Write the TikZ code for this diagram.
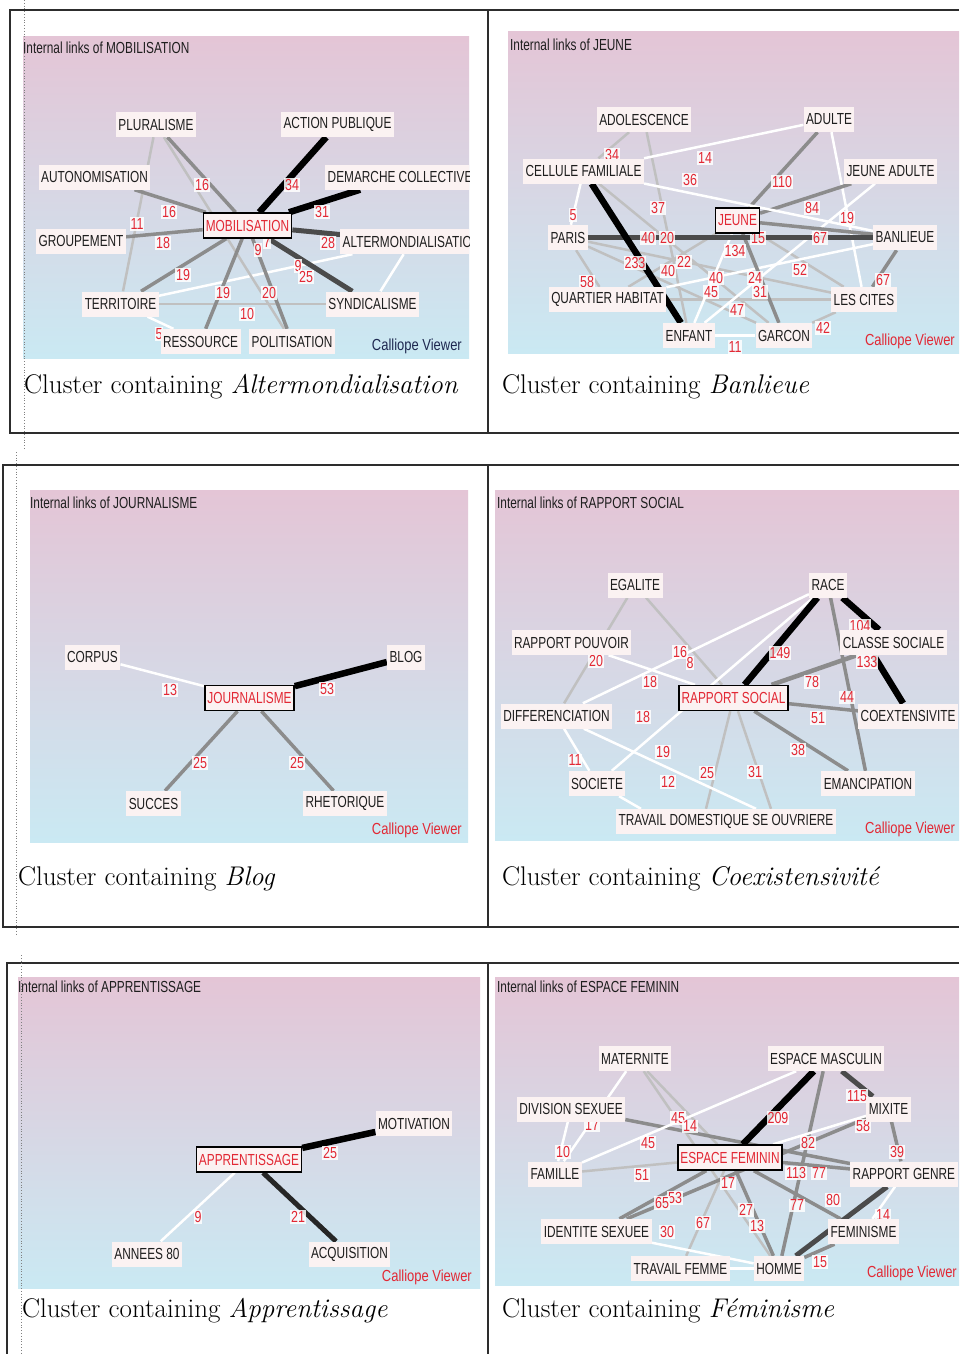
\documentclass[tikz,border=0pt]{standalone}
\usepackage{fontspec}
\newfontfamily\sansnarrow[FakeStretch=0.74]{Liberation Sans}
\newfontfamily\sansnum[FakeStretch=0.78]{Liberation Sans}
\newfontfamily\sanscv[FakeStretch=0.81]{Liberation Sans}
\newcommand\lblfont{\sansnarrow\fontsize{16}{18}\selectfont}
\newcommand\numfont{\sansnum\fontsize{16}{18}\selectfont}
\newcommand\cvfont{\sanscv\fontsize{16}{18}\selectfont}
\newcommand\capfont{\fontsize{27}{32}\selectfont}

\definecolor{pnkTop}{RGB}{228,197,214}
\definecolor{bluBot}{RGB}{202,233,243}
\definecolor{boxfill}{RGB}{251,242,242}
\definecolor{inkdark}{RGB}{30,30,30}
\definecolor{labred}{RGB}{226,40,52}
\definecolor{navy}{RGB}{30,40,80}
\definecolor{edgedark}{RGB}{75,75,75}
\definecolor{edgegray}{RGB}{140,140,140}
\definecolor{edgelight}{RGB}{192,192,192}
\definecolor{framecol}{RGB}{45,45,45}

\pgfdeclarelayer{bg}
\pgfdeclarelayer{edges}
\pgfdeclarelayer{nums}
\pgfsetlayers{bg,edges,nums,main}

\tikzset{
  nd/.style={rectangle, fill=boxfill, inner xsep=2.5pt, inner ysep=0pt,
    minimum height=25pt, font=\lblfont, text=inkdark},
  hub/.style={nd, draw=black, line width=1.4pt, text=labred},
  num/.style={fill=white, fill opacity=0.85, text opacity=1, inner sep=1pt,
    font=\numfont, text=labred},
  ttl/.style={anchor=west, inner sep=0pt, font=\lblfont, text=inkdark},
  cv/.style={anchor=east, inner sep=0pt, font=\cvfont, text=labred},
  captext/.style={anchor=base west, inner sep=0pt, font=\capfont, text=black},
  panel/.style={top color=pnkTop, bottom color=bluBot},
  eblack/.style={draw=black, line width=6.5pt},
  edark/.style={draw=edgedark, line width=5pt},
  egray/.style={draw=edgegray, line width=3.5pt},
  elight/.style={draw=edgelight, line width=2.5pt},
  ewhite/.style={draw=white, line width=2.5pt},
  frame/.style={draw=framecol, line width=1.3pt},
  dotline/.style={draw=gray, line width=0.8pt, dotted},
}

\begin{document}
\begin{tikzpicture}[x=1pt,y=1pt]
\useasboundingbox (0,0) rectangle (959,-1354);
\begin{pgfonlayer}{bg}
\fill[white] (0,0) rectangle (959,-1354);
\end{pgfonlayer}

% ---------- table frames ----------
\draw[frame] (959,-10) -- (10,-10) -- (10,-433) -- (959,-433);
\draw[frame] (488,-10) -- (488,-433);
\draw[frame] (959,-465) -- (3,-465) -- (3,-927) -- (959,-927);
\draw[frame] (488,-465) -- (488,-927);
\draw[frame] (959,-963) -- (7,-963) -- (7,-1354);
\draw[frame] (488,-963) -- (488,-1354);
\draw[dotline] (24,0) -- (24,-450);
\draw[dotline] (16,-452) -- (16,-935);
\draw[dotline] (21,-955) -- (21,-1354);

% ================= MOBILISATION =================
\begin{scope}
\clip (23,-37) rectangle (469,-358);
\node[ttl] at (23,-48) {Internal links of MOBILISATION};
\node[hub] (aMob) at (247.5,-225.5) {MOBILISATION};
\node[nd] (aPlu) at (156,-124.5) {PLURALISME};
\node[nd] (aAct) at (337.5,-124.5) {ACTION PUBLIQUE};
\node[nd] (aAut) at (94.5,-177) {AUTONOMISATION};
\node[nd, anchor=west] (aDem) at (325,-177) {DEMARCHE COLLECTIVE};
\node[nd] (aGrp) at (81,-241) {GROUPEMENT};
\node[nd, anchor=west] (aAlt) at (340,-241.5) {ALTERMONDIALISATION};
\node[nd] (aTer) at (120.5,-304) {TERRITOIRE};
\node[nd] (aSyn) at (372.5,-304) {SYNDICALISME};
\node[nd] (aRes) at (200.5,-341.5) {RESSOURCE};
\node[nd] (aPol) at (292,-341.5) {POLITISATION};
\node[cv, text=navy] at (462,-346) {Calliope Viewer};
\end{scope}
\begin{pgfonlayer}{bg}
\shade[panel] (23,-37) rectangle (469,-358);
\end{pgfonlayer}
\begin{pgfonlayer}{edges}
\begin{scope}
\clip (23,-37) rectangle (469,-358);
\draw[elight] (aPlu) -- (aTer);
\draw[elight] (aTer) -- (aSyn);
\draw[ewhite] (aTer) -- (aRes);
\draw[ewhite] (aTer) -- (aAlt);
\draw[ewhite] (aSyn) -- (aAlt);
\draw[elight] (aPlu) -- (aPol);
\draw[egray] (aMob) -- (aPlu);
\draw[egray] (aMob) -- (aAut);
\draw[egray] (aMob) -- (aGrp);
\draw[egray] (aMob) -- (aTer);
\draw[egray] (aMob) -- (aRes);
\draw[egray] (aMob) -- (aPol);
\draw[edark] (aMob) -- (aSyn);
\draw[edark] (aMob) -- (aAlt);
\draw[eblack] (aMob) -- (aDem);
\draw[eblack] (aMob) -- (aAct);
\end{scope}
\end{pgfonlayer}
\begin{pgfonlayer}{nums}
\begin{scope}
\clip (23,-37) rectangle (469,-358);
\node[num] at (292,-185) {34};
\node[num] at (322,-212) {31};
\node[num] at (328,-243) {28};
\node[num] at (298,-266) {9};
\node[num] at (306,-277) {25};
\node[num] at (269,-293) {20};
\node[num] at (223,-293) {19};
\node[num] at (183,-275) {19};
\node[num] at (163,-243) {18};
\node[num] at (169,-212) {16};
\node[num] at (202,-185) {16};
\node[num] at (137,-224) {11};
\node[num] at (247,-314) {10};
\node[num] at (159,-334) {5};
\node[num] at (258,-250) {9};
\node[num] at (267,-242) {7};
\end{scope}
\end{pgfonlayer}

% ================= JEUNE =================
\begin{scope}
\clip (508,-32) rectangle (959,-353);
\node[ttl] at (510,-45) {Internal links of JEUNE};
\node[hub] (bJeu) at (737.5,-220.5) {JEUNE};
\node[nd] (bAdo) at (644,-119.5) {ADOLESCENCE};
\node[nd] (bAdu) at (829,-119.5) {ADULTE};
\node[nd] (bCel) at (583.5,-171) {CELLULE FAMILIALE};
\node[nd] (bJad) at (890.5,-171) {JEUNE ADULTE};
\node[nd] (bPar) at (568,-237.5) {PARIS};
\node[nd] (bBan) at (905,-237.5) {BANLIEUE};
\node[nd] (bQua) at (607.5,-299.5) {QUARTIER HABITAT};
\node[nd] (bCit) at (864,-299.5) {LES CITES};
\node[nd] (bEnf) at (689,-335.5) {ENFANT};
\node[nd] (bGar) at (784,-335.5) {GARCON};
\node[cv] at (955,-341) {Calliope Viewer};
\end{scope}
\begin{pgfonlayer}{bg}
\shade[panel] (508,-32) rectangle (959,-353);
\end{pgfonlayer}
\begin{pgfonlayer}{edges}
\begin{scope}
\clip (508,-32) rectangle (959,-353);
\draw[elight] (bQua) -- (bCit);
\draw[elight] (bPar) -- (bQua);
\draw[elight] (bGar) -- (bCit);
\draw[elight] (bAdo) -- (bCel);
\draw[elight] (bAdo) -- (bEnf);
\draw[elight] (bJeu) -- (bCit);
\draw[elight] (bCel) -- (bGar);
\draw[elight] (bPar) -- (bCit);
\draw[elight] (bQua) -- (bJeu);
\draw[elight] (bPar) -- (bGar);
\draw[ewhite] (bAdu) -- (bCit);
\draw[ewhite] (bCel) -- (bPar);
\draw[ewhite] (bJeu) -- (bEnf);
\draw[ewhite] (bEnf) -- (bJad);
\draw[ewhite] (bQua) -- (bBan);
\draw[ewhite] (bEnf) -- (bGar);
\draw[egray] (bJeu) -- (bGar);
\draw[egray] (bBan) -- (bCit);
\draw[egray] (bJeu) -- (bAdu);
\draw[egray] (bJeu) -- (bJad);
\draw[egray] (bJeu) -- (bBan);
\draw[edark] (bPar) -- (bBan);
\draw[ewhite] (bCel) -- (bBan);
\draw[ewhite] (bCel) -- (bAdu);
\draw[eblack] (bCel) -- (bEnf);
\end{scope}
\end{pgfonlayer}
\begin{pgfonlayer}{nums}
\begin{scope}
\clip (508,-32) rectangle (959,-353);
\node[num] at (612,-155) {34};
\node[num] at (705,-158) {14};
\node[num] at (690,-180) {36};
\node[num] at (782,-182) {110};
\node[num] at (812,-208) {84};
\node[num] at (847,-218) {19};
\node[num] at (573,-215) {5};
\node[num] at (658,-208) {37};
\node[num] at (648,-238) {40};
\node[num] at (667,-238) {20};
\node[num] at (820,-238) {67};
\node[num] at (758,-238) {15};
\node[num] at (735,-251) {134};
\node[num] at (635,-263) {233};
\node[num] at (668,-271) {40};
\node[num] at (684,-262) {22};
\node[num] at (711,-292) {45};
\node[num] at (716,-278) {40};
\node[num] at (760,-292) {31};
\node[num] at (755,-278) {24};
\node[num] at (800,-270) {52};
\node[num] at (587,-282) {58};
\node[num] at (883,-280) {67};
\node[num] at (737,-310) {47};
\node[num] at (823,-328) {42};
\node[num] at (735,-347) {11};
\end{scope}
\end{pgfonlayer}

% ================= JOURNALISME =================
\begin{scope}
\clip (30,-490) rectangle (468,-842);
\node[ttl] at (30,-503) {Internal links of JOURNALISME};
\node[hub] (cJou) at (249.5,-698) {JOURNALISME};
\node[nd] (cCor) at (92.5,-657) {CORPUS};
\node[nd] (cBlo) at (406,-657) {BLOG};
\node[nd] (cSuc) at (153.5,-803.5) {SUCCES};
\node[nd] (cRhe) at (345,-803.5) {RHETORIQUE};
\node[cv] at (462,-830) {Calliope Viewer};
\end{scope}
\begin{pgfonlayer}{bg}
\shade[panel] (30,-490) rectangle (468,-842);
\end{pgfonlayer}
\begin{pgfonlayer}{edges}
\begin{scope}
\clip (30,-490) rectangle (468,-842);
\draw[ewhite] (cCor) -- (cJou);
\draw[egray] (cJou) -- (cSuc);
\draw[egray] (cJou) -- (cRhe);
\draw[eblack] (cJou) -- (cBlo);
\end{scope}
\end{pgfonlayer}
\begin{pgfonlayer}{nums}
\begin{scope}
\clip (30,-490) rectangle (468,-842);
\node[num] at (170,-690) {13};
\node[num] at (327,-689) {53};
\node[num] at (200,-763) {25};
\node[num] at (297,-763) {25};
\end{scope}
\end{pgfonlayer}

% ================= RAPPORT SOCIAL =================
\begin{scope}
\clip (495,-490) rectangle (959,-840);
\node[ttl] at (497,-503) {Internal links of RAPPORT SOCIAL};
\node[hub] (dRs) at (733.5,-698) {RAPPORT SOCIAL};
\node[nd] (dEga) at (635,-585) {EGALITE};
\node[nd] (dRac) at (828,-585) {RACE};
\node[nd] (dRpo) at (571.5,-642.5) {RAPPORT POUVOIR};
\node[nd] (dCla) at (893.5,-642.5) {CLASSE SOCIALE};
\node[nd] (dDif) at (556.5,-716) {DIFFERENCIATION};
\node[nd, anchor=west] (dCoe) at (858,-716) {COEXTENSIVITE};
\node[nd] (dSoc) at (597,-783.5) {SOCIETE};
\node[nd] (dEma) at (868,-783.5) {EMANCIPATION};
\node[nd] (dTra) at (726,-821.5) {TRAVAIL DOMESTIQUE SE OUVRIERE};
\node[cv, anchor=west] at (865,-829) {Calliope Viewer};
\end{scope}
\begin{pgfonlayer}{bg}
\shade[panel] (495,-490) rectangle (959,-840);
\end{pgfonlayer}
\begin{pgfonlayer}{edges}
\begin{scope}
\clip (495,-490) rectangle (959,-840);
\draw[elight] (dEga) -- (dRs);
\draw[elight] (dEga) -- (dDif);
\draw[elight] (dRs) -- ([xshift=45pt]dTra.north);
\draw[elight] (dRs) -- ([xshift=-20pt]dTra.north);
\draw[ewhite] (dRpo) -- (dRs);
\draw[ewhite] (dDif) -- (dSoc);
\draw[ewhite] (dSoc) -- ([xshift=-85pt]dTra.north);
\draw[ewhite] (dDif) -- ([xshift=30pt]dTra.north);
\draw[ewhite] (dSoc) -- (dRac);
\draw[ewhite] (dDif) -- (dRac);
\draw[egray] (dRac) -- (dEma);
\draw[egray] (dRs) -- (dEma);
\draw[egray] (dRs) -- (dCoe);
\draw[egray, line width=4.5pt] (dRs) -- (dCla);
\draw[eblack] (dRs) -- (dRac);
\draw[eblack] (dRac) -- (dCla);
\draw[eblack] ([xshift=-20pt]dCla.south) -- ([xshift=-5pt]dCoe.north);
\end{scope}
\end{pgfonlayer}
\begin{pgfonlayer}{nums}
\begin{scope}
\clip (495,-490) rectangle (959,-840);
\node[num] at (860,-626) {104};
\node[num] at (867,-662) {133};
\node[num] at (780,-653) {149};
\node[num] at (812,-682) {78};
\node[num] at (847,-697) {44};
\node[num] at (818,-718) {51};
\node[num] at (798,-750) {38};
\node[num] at (755,-772) {31};
\node[num] at (707,-773) {25};
\node[num] at (663,-752) {19};
\node[num] at (668,-782) {12};
\node[num] at (575,-760) {11};
\node[num] at (650,-682) {18};
\node[num] at (643,-717) {18};
\node[num] at (680,-652) {16};
\node[num] at (690,-663) {8};
\node[num] at (596,-661) {20};
\end{scope}
\end{pgfonlayer}

% ================= APPRENTISSAGE =================
\begin{scope}
\clip (18,-977) rectangle (480,-1288);
\node[ttl] at (18,-987) {Internal links of APPRENTISSAGE};
\node[hub] (eApp) at (249,-1159.5) {APPRENTISSAGE};
\node[nd] (eMot) at (414,-1123.5) {MOTIVATION};
\node[nd] (eAnn) at (147,-1254) {ANNEES 80};
\node[nd] (eAcq) at (349.5,-1254) {ACQUISITION};
\node[cv] at (472,-1277) {Calliope Viewer};
\end{scope}
\begin{pgfonlayer}{bg}
\shade[panel] (18,-977) rectangle (480,-1288);
\end{pgfonlayer}
\begin{pgfonlayer}{edges}
\begin{scope}
\clip (18,-977) rectangle (480,-1288);
\draw[ewhite] (eApp) -- (eAnn);
\draw[edark, draw=black!85] (eApp) -- (eAcq);
\draw[eblack] (eApp) -- (eMot);
\end{scope}
\end{pgfonlayer}
\begin{pgfonlayer}{nums}
\begin{scope}
\clip (18,-977) rectangle (480,-1288);
\node[num] at (330,-1153) {25};
\node[num] at (198,-1217) {9};
\node[num] at (298,-1217) {21};
\end{scope}
\end{pgfonlayer}

% ================= ESPACE FEMININ =================
\begin{scope}
\clip (495,-977) rectangle (959,-1285);
\node[ttl] at (497,-987) {Internal links of ESPACE FEMININ};
\node[hub] (fEf) at (730,-1157.5) {ESPACE FEMININ};
\node[nd] (fMat) at (635,-1058.5) {MATERNITE};
\node[nd] (fEma) at (826,-1058.5) {ESPACE MASCULIN};
\node[nd] (fDiv) at (571,-1109) {DIVISION SEXUEE};
\node[nd] (fMix) at (888.5,-1109) {MIXITE};
\node[nd] (fFam) at (555,-1174) {FAMILLE};
\node[nd, anchor=west] (fRge) at (850,-1174) {RAPPORT GENRE};
\node[nd] (fIds) at (596.5,-1231.5) {IDENTITE SEXUEE};
\node[nd] (fFmn) at (863.5,-1231.5) {FEMINISME};
\node[nd] (fTfe) at (680.5,-1268.5) {TRAVAIL FEMME};
\node[nd] (fHom) at (779,-1268.5) {HOMME};
\node[cv] at (957,-1273) {Calliope Viewer};
\end{scope}
\begin{pgfonlayer}{bg}
\shade[panel] (495,-977) rectangle (959,-1285);
\end{pgfonlayer}
\begin{pgfonlayer}{edges}
\begin{scope}
\clip (495,-977) rectangle (959,-1285);
\draw[ewhite] (fTfe) -- (fHom);
\draw[ewhite] (fDiv) -- (fFam);
\draw[ewhite] (fMat) -- (fFam);
\draw[elight] (fMat) -- (fEf);
\draw[elight] (fMat) -- (fHom);
\draw[elight] (fFam) -- (fEf);
\draw[elight] (fEf) -- (fTfe);
\draw[ewhite] (fIds) -- (fHom);
\draw[egray] (fDiv) -- (fRge);
\draw[egray] (fIds) -- (fEf);
\draw[egray] (fIds) -- (fMix);
\draw[egray] (fEf) -- (fRge);
\draw[egray] (fEf) -- (fFmn);
\draw[egray] (fEf) -- (fHom);
\draw[egray] (fMix) -- (fRge);
\draw[egray] (fFmn) -- (fHom);
\draw[egray] (fEma) -- (fHom);
\draw[ewhite] (fRge) -- (fFmn);
\draw[edark] (fRge) -- (fHom);
\draw[ewhite] (fMix) -- (fEf);
\draw[ewhite] (fEma) -- (fFam);
\draw[edark] (fEma) -- (fMix);
\draw[eblack] (fEma) -- (fEf);
\end{scope}
\end{pgfonlayer}
\begin{pgfonlayer}{nums}
\begin{scope}
\clip (495,-977) rectangle (959,-1285);
\node[num] at (857,-1096) {115};
\node[num] at (863,-1126) {58};
\node[num] at (897,-1152) {39};
\node[num] at (778,-1118) {209};
\node[num] at (808,-1143) {82};
\node[num] at (678,-1118) {45};
\node[num] at (690,-1126) {14};
\node[num] at (648,-1143) {45};
\node[num] at (592,-1125) {17};
\node[num] at (563,-1152) {10};
\node[num] at (642,-1175) {51};
\node[num] at (728,-1183) {17};
\node[num] at (796,-1173) {113};
\node[num] at (819,-1173) {77};
\node[num] at (833,-1200) {80};
\node[num] at (797,-1205) {77};
\node[num] at (675,-1198) {53};
\node[num] at (662,-1203) {65};
\node[num] at (746,-1210) {27};
\node[num] at (757,-1226) {13};
\node[num] at (703,-1223) {67};
\node[num] at (667,-1232) {30};
\node[num] at (883,-1215) {14};
\node[num] at (820,-1262) {15};
\end{scope}
\end{pgfonlayer}

% ---------- captions ----------
\node[captext] at (24,-393) {Cluster containing \textit{Altermondialisation}};
\node[captext] at (502,-393) {Cluster containing \textit{Banlieue}};
\node[captext] at (18,-885) {Cluster containing \textit{Blog}};
\node[captext] at (502,-885) {Cluster containing \textit{Coexistensivité}};
\node[captext] at (22,-1317) {Cluster containing \textit{Apprentissage}};
\node[captext] at (502,-1317) {Cluster containing \textit{Féminisme}};
\end{tikzpicture}
\end{document}
